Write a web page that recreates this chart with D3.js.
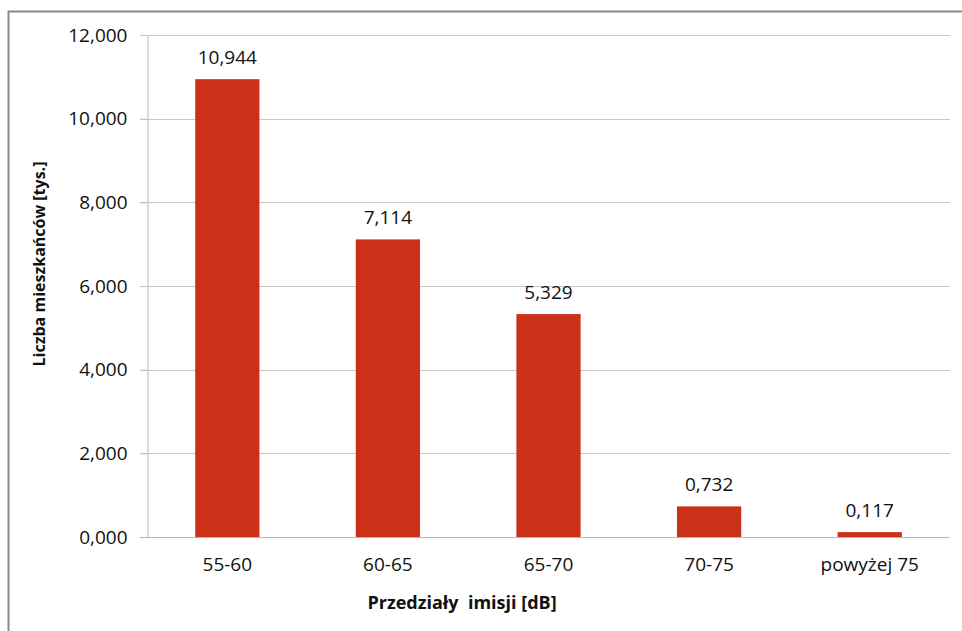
<!DOCTYPE html>
<html>
<head>
<meta charset="utf-8">
<script src="https://cdn.jsdelivr.net/npm/d3@7"></script>
<style>
  html, body { margin: 0; padding: 0; background: #fff; }
  svg { display: block; }
  text { font-family: "Open Sans", "Noto Sans", sans-serif; fill: #111; }
</style>
</head>
<body>
<svg id="chart" width="962" height="631"></svg>
<script>
// Noise exposure intervals and residents (thousands)
const categories = ["55-60", "60-65", "65-70", "70-75", "powyżej 75"];
const residents = [10.944, 7.114, 5.329, 0.732, 0.117];
const yTicks = [0, 2, 4, 6, 8, 10, 12];
const yTitle = "Liczba mieszkańców [tys.]";
const xTitle = "Przedziały  imisji [dB]";

const svg = d3.select("#chart");
const plot = { left: 147, right: 950, top: 35, bottom: 537 };
const font = "\"Open Sans\", \"Noto Sans\", sans-serif";

// Polish number format: comma as decimal separator, three decimals
const plFormat = d3.formatLocale({ decimal: ",", thousands: " ", grouping: [3], currency: ["", " zł"] }).format(".3f");

const x = d3.scaleBand().domain(categories).range([plot.left, plot.right]).paddingInner(0.6).paddingOuter(0.3);
const y = d3.scaleLinear().domain([0, 12]).range([plot.bottom, plot.top]);

// Outer chart frame
svg.append("rect")
  .attr("x", 8.5).attr("y", 11.5).attr("width", 1000).attr("height", 700)
  .attr("fill", "none").attr("stroke", "#8a8a8a").attr("stroke-width", 2);

// Horizontal gridlines
svg.append("g")
  .selectAll("line").data(yTicks.slice(1)).join("line")
  .attr("x1", plot.left - 7).attr("x2", plot.right)
  .attr("y1", d => Math.round(y(d)) + 0.5).attr("y2", d => Math.round(y(d)) + 0.5)
  .attr("stroke", "#c6c6c6").attr("stroke-width", 1.2);

// Y axis
const yAxis = svg.append("g")
  .attr("transform", `translate(${plot.left + 0.5},0)`)
  .call(d3.axisLeft(y).tickValues(yTicks).tickFormat(plFormat).tickSize(7).tickPadding(13));
yAxis.select(".domain").attr("stroke", "#c6c6c6").attr("stroke-width", 1.2);
yAxis.selectAll(".tick line").attr("stroke", "#c6c6c6").attr("stroke-width", 1.2);
yAxis.selectAll(".tick text").attr("font-size", 19).attr("font-family", font).attr("fill", "#111");

// X axis baseline and category labels
const xAxis = svg.append("g")
  .attr("transform", `translate(0,${plot.bottom + 0.5})`)
  .call(d3.axisBottom(x).tickSize(0).tickPadding(20));
xAxis.select(".domain").attr("stroke", "#b8b8b8").attr("stroke-width", 1.2)
  .attr("d", `M${plot.left - 7},0H${plot.right}`);
xAxis.selectAll(".tick text").attr("font-size", 19).attr("font-family", font).attr("fill", "#111");

// Bars
svg.append("g")
  .selectAll("rect").data(residents).join("rect")
  .attr("x", (d, i) => x(categories[i]))
  .attr("width", x.bandwidth())
  .attr("y", d => y(d))
  .attr("height", d => y(0) - y(d))
  .attr("fill", "#CB3118");

// Value labels
svg.append("g")
  .selectAll("text").data(residents).join("text")
  .attr("x", (d, i) => x(categories[i]) + x.bandwidth() / 2)
  .attr("y", d => y(d) - 15)
  .attr("text-anchor", "middle")
  .attr("font-size", 19)
  .text(d => plFormat(d));

// Axis titles
svg.append("text")
  .attr("transform", "translate(45,264) rotate(-90)")
  .attr("text-anchor", "middle")
  .attr("font-size", 16).attr("font-weight", "bold")
  .text(yTitle);

svg.append("text")
  .attr("x", 462).attr("y", 609)
  .attr("text-anchor", "middle")
  .attr("xml:space", "preserve")
  .style("white-space", "pre")
  .attr("font-size", 18).attr("font-weight", "bold")
  .text(xTitle);
</script>
</body>
</html>
